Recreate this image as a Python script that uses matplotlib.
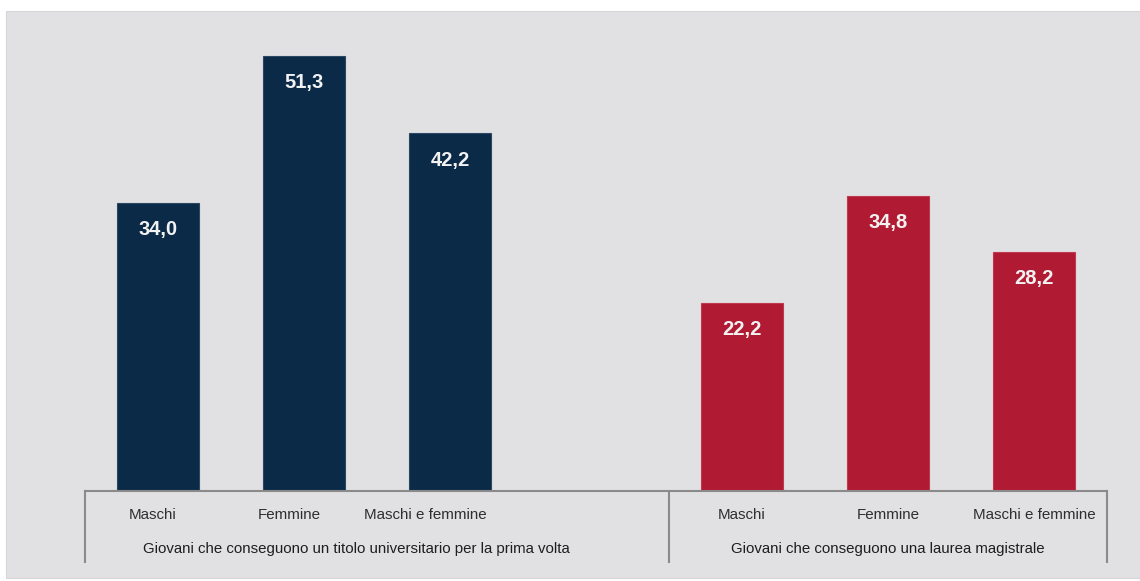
import matplotlib
matplotlib.use("Agg")
import matplotlib.pyplot as plt
from matplotlib.patches import Rectangle
import matplotlib.transforms as mtransforms

# Data
categories = ["Maschi", "Femmine", "Maschi e femmine"]
groups = ["Giovani che conseguono un titolo universitario per la prima volta",
          "Giovani che conseguono una laurea magistrale"]
values_first = [34.0, 51.3, 42.2]
values_master = [22.2, 34.8, 28.2]

navy = "#0b2a47"
red = "#b01a32"
bg = "#e1e1e3"
txt = "#2e2e2e"
axis_grey = "#8a8a8a"

W, H = 1140, 581
fig = plt.figure(figsize=(W / 100, H / 100), dpi=100, facecolor="white")
panel = Rectangle((6 / W, 3 / H), 1 - 6 / W, 1 - 14 / H,
                  transform=fig.transFigure, facecolor=bg,
                  edgecolor="#d6d6d8", lw=0.8, zorder=-10)
fig.add_artist(panel)

ax = fig.add_axes([85 / W, (H - 491) / H, (1107 - 85) / W, (491 - 11) / H])
ax.set_facecolor("none")
ax.set_zorder(5)

pos_first = [0, 1, 2]
pos_master = [4, 5, 6]
family = ["Liberation Sans Narrow", "Liberation Sans", "DejaVu Sans"]

b1 = ax.bar(pos_first, values_first, width=0.56, color=navy,
            edgecolor="#2c4763", linewidth=0.8, zorder=2)
b2 = ax.bar(pos_master, values_master, width=0.56, color=red,
            edgecolor="#c0384d", linewidth=0.8, zorder=2)

ax.set_xlim(-0.5, 6.5)
ax.set_ylim(0, 480 / 8.48)

for bars, vals in ((b1, values_first), (b2, values_master)):
    for rect, v in zip(bars, vals):
        ax.annotate(f"{v:.1f}".replace(".", ","),
                    xy=(rect.get_x() + rect.get_width() / 2, v),
                    xytext=(0, -27), textcoords="offset pixels",
                    ha="center", va="center", color="#f2f2f2",
                    fontsize=14.5, fontweight="bold", family=family)

for s in ["top", "left", "right"]:
    ax.spines[s].set_visible(False)
ax.spines["bottom"].set_color(axis_grey)
ax.spines["bottom"].set_linewidth(1.5)
ax.set_xticks([])
ax.set_yticks([])

trans = mtransforms.blended_transform_factory(ax.transData, ax.transAxes)
sep_bottom = -(562 - 491) / 480
for xs in (-0.5, 3.5, 6.5):
    ax.plot([xs, xs], [0, sep_bottom], transform=trans, color=axis_grey,
            lw=1.5, clip_on=False)

# category labels
cat_y = -(515 - 491) / 480
grp_y = -(549 - 491) / 480
left_label_x = [0 - 0.04, 1 - 0.10, 2 - 0.17]
for x, c in zip(left_label_x, categories):
    ax.text(x, cat_y, c, transform=trans, ha="center", va="center",
            fontsize=10.9, color=txt, family=family)
for x, c in zip(pos_master, categories):
    ax.text(x, cat_y, c, transform=trans, ha="center", va="center",
            fontsize=10.9, color=txt, family=family)

ax.text(1.36, grp_y, groups[0], transform=trans, ha="center", va="center",
        fontsize=10.8, color="#1e1e1e", family=family)
ax.text(5.0, grp_y, groups[1], transform=trans, ha="center", va="center",
        fontsize=10.8, color="#1e1e1e", family=family)

fig.savefig("out.png", dpi=100, facecolor="white")
